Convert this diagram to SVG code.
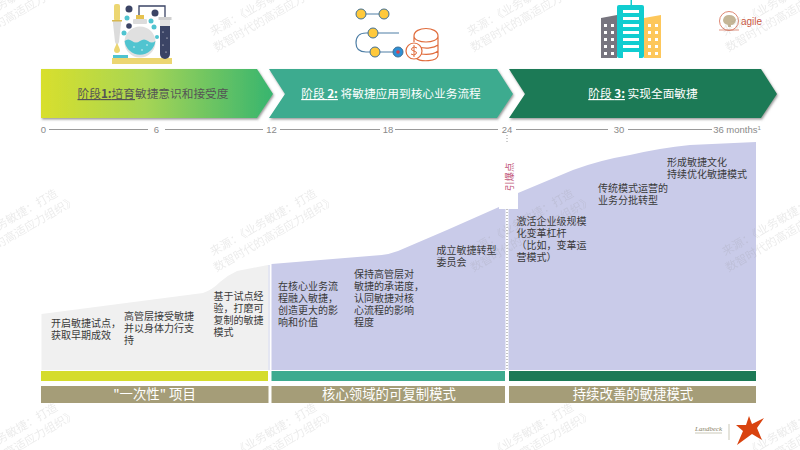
<svg xmlns="http://www.w3.org/2000/svg" width="800" height="450" viewBox="0 0 800 450">
<style>
text{font-family:"Noto Sans CJK SC","Liberation Sans",sans-serif}
.t{font-size:10px;fill:#3a3a3a}
.h{font-size:11.7px;text-anchor:middle}
.b{font-size:13.4px;fill:#fff;text-anchor:middle}
.n{font-family:"Liberation Sans",sans-serif;font-size:9.5px;fill:#8a8a8a;text-anchor:middle}
.w{font-size:11.5px;fill:#8c8c8c;opacity:.17}
.y{fill:#ffc93c;stroke:#3f6f96;stroke-width:1}
.win{fill:#fff}
</style>
<defs>
<linearGradient id="g1"><stop offset="0" stop-color="#d8df2c"/><stop offset=".45" stop-color="#a6d555"/><stop offset="1" stop-color="#37b56f"/></linearGradient>
<g id="wm"><text class="w" x="0" y="0">来源：《业务敏捷：打造</text><text class="w" x="-5" y="15.500">数智时代的高适应力组织》</text></g>
<filter id="s" x="-5%" y="-10%" width="110%" height="125%"><feDropShadow dx="1" dy="1.5" stdDeviation="0.8" flood-color="#555" flood-opacity=".6"/></filter>
</defs>
<rect width="800" height="450" fill="#fff"/>

<g id="icon-lab">
<path d="M139 18V6H165V20" fill="none" stroke="#3b4465" stroke-width="1.3"/>
<rect x="112" y="58" width="60" height="6" fill="#ecd672"/>
<rect x="113" y="55" width="15" height="3" fill="#4fc3cf"/>
<path d="M113 21H121V23L119 42L117 46L115 42L113 23Z" fill="#dcdcdc"/>
<rect x="114" y="4" width="6" height="17" rx="2" fill="#ecd672"/><rect x="112" y="20" width="10" height="1.5" fill="#d8b84f"/>
<path d="M117 43Q120 49 120 50A3 3 0 0 1 114 50Q114 49 117 43Z" fill="#ecd672"/>
<rect x="136" y="15" width="8" height="5" fill="#e6c24f"/><rect x="133" y="19" width="14" height="5" rx="1" fill="#dcdcdc"/>
<circle cx="140" cy="42" r="15.500" fill="#e0e0e0"/>
<path d="M124.600 41Q128 38 132 41T140 41T148 41T155.400 41A15.500 15.500 0 0 1 124.600 41Z" fill="#50c4d0"/>
<rect x="160" y="21" width="10" height="38" rx="5" fill="#3b4465"/><rect x="160" y="17" width="10" height="9" fill="#e2e2e2"/><rect x="158.500" y="17" width="13" height="3" fill="#d0d0d0"/>
<g fill="#fff"><circle cx="163" cy="32" r=".6"/><circle cx="167" cy="38" r=".6"/><circle cx="163" cy="45" r=".6"/><circle cx="166" cy="52" r=".6"/><circle cx="134" cy="47" r=".7"/><circle cx="142" cy="50" r=".7"/><circle cx="147" cy="45" r=".7"/></g>
<circle cx="129" cy="9" r="3.500" fill="#3b4465"/><circle cx="155" cy="13" r="3.500" fill="#3b4465"/><circle cx="129" cy="26" r="2.800" fill="#3b4465"/><circle cx="127" cy="18" r="2.500" fill="#50c4d0"/><circle cx="124" cy="33" r="2.500" fill="#50c4d0"/><circle cx="151" cy="21" r="2.500" fill="#50c4d0"/><circle cx="154" cy="27" r="2.500" fill="#50c4d0"/><circle cx="157" cy="37" r="2" fill="#50c4d0"/>
</g>

<g id="icon-path">
<path d="M361 14H384M373 33H399M376 52H398M373 33H366Q356 33 356 43Q356 52 366 52H376" fill="none" stroke="#4f7fa6" stroke-width="1.200"/>
<circle class="y" cx="361" cy="14" r="5"/><circle class="y" cx="384" cy="14" r="5"/><circle class="y" cx="373" cy="33" r="5"/><circle class="y" cx="375" cy="52" r="5"/>
<circle cx="398" cy="52" r="5" fill="#2d8fd5" stroke="#3f6f96"/><circle cx="398" cy="52" r="1.800" fill="#d8434b"/>
<path d="M414 36C414 26 438 26 438 36V55C438 62 420 62 416 58M414 36C414 44 438 44 438 36M419 47C426 49 434 48 438 45M421 54C428 55 434 54 438 51M414 36V42" fill="none" stroke="#e06c3c" stroke-width="1.200"/>
<circle cx="414" cy="51" r="8" fill="#fff" stroke="#e06c3c" stroke-width="1.200"/>
<path d="M417 48Q414 46 412 48T414 51T416 54T411 54M414 45V57" fill="none" stroke="#e06c3c"/>
</g>

<g id="icon-buildings">
<path d="M601 18L617 15V58H601Z" fill="#77757f"/>
<path d="M644 18L661 15V58H644Z" fill="#fdc75b"/>
<rect x="630.500" y="0" width="1.500" height="6" fill="#11cdd0"/>
<rect x="617" y="5" width="27" height="53" rx="2" fill="#11cdd0"/>
<g class="win"><rect x="623" y="10" width="16" height="3"/><rect x="623" y="17" width="16" height="3"/><rect x="623" y="24" width="16" height="3"/><rect x="623" y="31" width="16" height="3"/><rect x="623" y="38" width="16" height="3"/><rect x="623" y="45" width="16" height="3"/><rect x="623" y="52" width="16" height="6"/></g>
<g class="win"><rect x="604" y="24" width="3" height="3"/><rect x="611" y="24" width="3" height="3"/><rect x="604" y="31" width="3" height="3"/><rect x="611" y="31" width="3" height="3"/><rect x="604" y="38" width="3" height="3"/><rect x="611" y="38" width="3" height="3"/><rect x="604" y="45" width="3" height="3"/><rect x="611" y="45" width="3" height="3"/><rect x="604" y="52" width="3" height="3"/><rect x="611" y="52" width="3" height="3"/>
<rect x="648" y="24" width="3" height="3"/><rect x="655" y="24" width="3" height="3"/><rect x="648" y="31" width="3" height="3"/><rect x="655" y="31" width="3" height="3"/><rect x="648" y="38" width="3" height="3"/><rect x="655" y="38" width="3" height="3"/><rect x="648" y="45" width="3" height="3"/><rect x="655" y="45" width="3" height="3"/><rect x="648" y="52" width="3" height="3"/><rect x="655" y="52" width="3" height="3"/></g>
</g>

<g id="logo-agile">
<circle cx="729" cy="21" r="9.500" fill="none" stroke="#d4684f" stroke-width=".8"/>
<path d="M723 20Q724 15 729 15Q735 15 736 20Q735 25 731 25V27H728V25Q723 24 723 20Z" fill="#c4b596"/>
<path d="M719 30H739" stroke="#d4684f" stroke-width=".7"/>
<text x="741" y="24.500" font-size="10" fill="#c9573f" style="font-family:'Liberation Sans',sans-serif">agile</text>
</g>

<g id="stage-1"><path d="M41 69H257L273 94L257 118H41Z" fill="url(#g1)" filter="url(#s)"/>
<text class="h" x="153" y="98" fill="#555"><tspan text-decoration="underline">阶段<tspan font-weight="700">1:</tspan>培育</tspan>敏捷意识和接受度</text></g>
<g id="stage-2"><path d="M269 69H497L513 94L497 118H269L285 94Z" fill="#3dab8f" filter="url(#s)"/>
<text class="h" x="391" y="98" fill="#fff"><tspan text-decoration="underline">阶段 <tspan font-weight="700">2:</tspan></tspan> 将敏捷应用到核心业务流程</text></g>
<g id="stage-3"><path d="M509 69H761L777 94L761 118H509L525 94Z" fill="#1c7a56" filter="url(#s)"/>
<text class="h" x="643" y="98" fill="#fff"><tspan text-decoration="underline">阶段 <tspan font-weight="700">3:</tspan></tspan> 实现全面敏捷</text></g>

<g id="timeline">
<path d="M49 129.500H148M165 129.500H263M280 129.500H380M395 129.500H498M516 129.500H608M628 129.500H712" stroke="#9a9a9a" stroke-width="1" fill="none"/>
<text class="n" x="43.500" y="133">0</text><text class="n" x="156.500" y="133">6</text><text class="n" x="271.500" y="133">12</text><text class="n" x="388" y="133">18</text><text class="n" x="507" y="133">24</text><text class="n" x="619" y="133">30</text>
<text class="n" x="737" y="133">36 months<tspan font-size="6" dy="-3">1</tspan></text>
</g>

<g id="areas">
<path d="M41.500 314L203 293Q212 290 220 282Q228 275 237 271L268 265V370H41.500Z" fill="#f0f0f0"/>
<rect x="268" y="265" width="2" height="105" fill="#e4e6f2"/>
<path d="M271.500 264L381.700 255Q390 254 398 251L447 230L499 207V209H518V193L573 170Q600 160 630 155Q660 148 690 145L756 142V370H271.500Z" fill="#c9cbe9"/>
<path d="M507 135V144" stroke="#9a9a9a" stroke-width="1" stroke-dasharray="1 2" fill="none"/>
<path d="M507 209V370" stroke="#fff" stroke-width="3" fill="none"/>
<path d="M507 209V370" stroke="#888" stroke-width="1" stroke-dasharray="1 2" fill="none"/>
<text transform="translate(512.500 191) rotate(-90)" font-size="9.500" fill="#c2587a">引爆点</text>
</g>

<g id="bars">
<rect x="41" y="371" width="227" height="10" fill="#d5dc2c"/><rect x="271.500" y="371" width="233.500" height="10" fill="#3dab8f"/><rect x="509" y="371" width="247" height="10" fill="#1c7a56"/>
</g>

<g id="band-1"><rect x="41" y="386" width="227.500" height="17" fill="#a59d78"/><text class="b" x="154.500" y="399">"一次性" 项目</text></g>
<g id="band-2"><rect x="271.500" y="386" width="233.500" height="17" fill="#a59d78"/><text class="b" x="389" y="399">核心领域的可复制模式</text></g>
<g id="band-3"><rect x="509" y="386" width="247" height="17" fill="#a59d78"/><text class="b" x="633" y="399">持续改善的敏捷模式</text></g>

<g id="notes">
<text class="t"><tspan x="51" y="327">开启敏捷试点，</tspan><tspan x="51" y="339">获取早期成效</tspan></text>
<text class="t"><tspan x="124" y="320">高管层接受敏捷</tspan><tspan x="124" y="332">并以身体力行支</tspan><tspan x="124" y="344">持</tspan></text>
<text class="t"><tspan x="213.500" y="300">基于试点经</tspan><tspan x="213.500" y="312">验，打磨可</tspan><tspan x="213.500" y="324">复制的敏捷</tspan><tspan x="213.500" y="336">模式</tspan></text>
<text class="t"><tspan x="278" y="290">在核心业务流</tspan><tspan x="278" y="302">程融入敏捷，</tspan><tspan x="278" y="314">创造更大的影</tspan><tspan x="278" y="326">响和价值</tspan></text>
<text class="t"><tspan x="354" y="278">保持高管层对</tspan><tspan x="354" y="290">敏捷的承诺度，</tspan><tspan x="354" y="302">认同敏捷对核</tspan><tspan x="354" y="314">心流程的影响</tspan><tspan x="354" y="326">程度</tspan></text>
<text class="t"><tspan x="436.500" y="254">成立敏捷转型</tspan><tspan x="436.500" y="266">委员会</tspan></text>
<text class="t"><tspan x="516.500" y="225">激活企业级规模</tspan><tspan x="516.500" y="237">化变革杠杆</tspan><tspan x="516.500" y="249">（比如，变革运</tspan><tspan x="516.500" y="261">营模式）</tspan></text>
<text class="t"><tspan x="598" y="192">传统模式运营的</tspan><tspan x="598" y="204">业务分批转型</tspan></text>
<text class="t"><tspan x="667" y="166">形成敏捷文化</tspan><tspan x="667" y="178">持续优化敏捷模式</tspan></text>
</g>

<g id="logo-landbeck">
<text x="695" y="431" font-size="7" fill="#8a8468" style="font-family:'Liberation Serif',serif;font-style:italic">Landbeck</text>
<path d="M695 433H722M729 424V440" stroke="#a8a48a" stroke-width=".6"/>
<path d="M749 416L752 424L764 418L757 428L762 440L752 434L737 445L743 431L736 425L746 425Z" fill="#d9430f"/>
</g>

<g id="watermarks">
<use href="#wm" transform="translate(-46 36) rotate(-30)"/><use href="#wm" transform="translate(213 36) rotate(-30)"/><use href="#wm" transform="translate(470 36) rotate(-30)"/><use href="#wm" transform="translate(725 36) rotate(-30)"/>
<use href="#wm" transform="translate(-46 256) rotate(-30)"/><use href="#wm" transform="translate(213 256) rotate(-30)"/><use href="#wm" transform="translate(470 256) rotate(-30)"/><use href="#wm" transform="translate(725 256) rotate(-30)"/>
<use href="#wm" transform="translate(-46 470) rotate(-30)"/><use href="#wm" transform="translate(213 470) rotate(-30)"/><use href="#wm" transform="translate(470 470) rotate(-30)"/><use href="#wm" transform="translate(725 470) rotate(-30)"/>
</g>
</svg>
